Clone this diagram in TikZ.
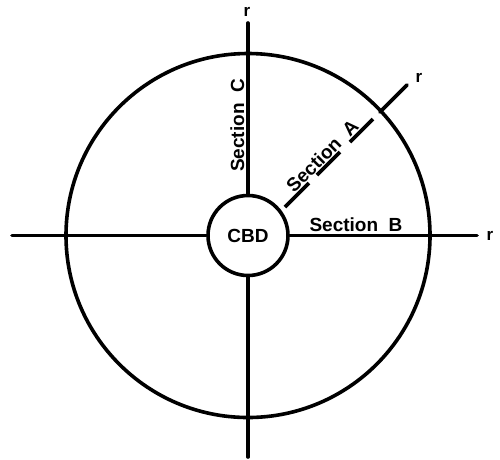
\documentclass[tikz,border=0pt]{standalone}
\usepackage{fontspec}
\setmainfont{Liberation Sans}
\begin{document}
\begin{tikzpicture}[x=1pt,y=-1pt,
  thick line/.style={line width=3.6pt},
  lbl/.style={font=\fontsize{19}{19}\selectfont\bfseries, inner sep=0pt},
  rlbl/.style={font=\fontsize{17}{17}\selectfont\bfseries, inner sep=0pt}]
\useasboundingbox (0,0) rectangle (500,459);
% big circle
\draw[thick line] (248,235.5) circle[radius=182pt];
% CBD
\node[circle, draw, thick line, fill=white, minimum size=80pt, inner sep=0pt,
      font=\fontsize{19}{19}\selectfont\bfseries] (cbd) at (248,235.5) {CBD};
% axis end points
\coordinate (top) at (248,23);
\coordinate (bot) at (248,457);
\coordinate (lft) at (12,235.5);
\coordinate (rgt) at (477,235.5);
\draw[thick line, line cap=round] (top) -- (cbd.north);
\draw[thick line, line cap=round] (cbd.south) -- (bot);
\draw[thick line, line cap=round] (lft) -- (cbd.west);
\draw[thick line, line cap=round] (cbd.east) -- (rgt);
% diagonal (Section A) segments
\coordinate (a1) at (285,207); \coordinate (a2) at (309,183);
\coordinate (a3) at (317,175); \coordinate (a4) at (340,152);
\coordinate (a5) at (350,142); \coordinate (a6) at (373,119);
\coordinate (a7) at (380,112); \coordinate (a8) at (407,85);
\draw[thick line] (a1) -- (a2);
\draw[thick line] (a3) -- (a4);
\draw[thick line] (a5) -- (a6);
\draw[thick line, line cap=round] (a7) -- (a8);
% labels
\node[lbl, rotate=90, anchor=base] (secC) at (244,125.5) {Section\ \ C};
\node[lbl, anchor=base] (secB) at (356,231) {Section\ \ B};
\node[lbl, rotate=45, anchor=base] (secA) at (327,161) {Section\ \ A};
\node[rlbl, anchor=base] (r1) at (247,16) {r};
\node[rlbl, anchor=base] (r2) at (419,82) {r};
\node[rlbl, anchor=base] (r3) at (490,240) {r};
\end{tikzpicture}
\end{document}
